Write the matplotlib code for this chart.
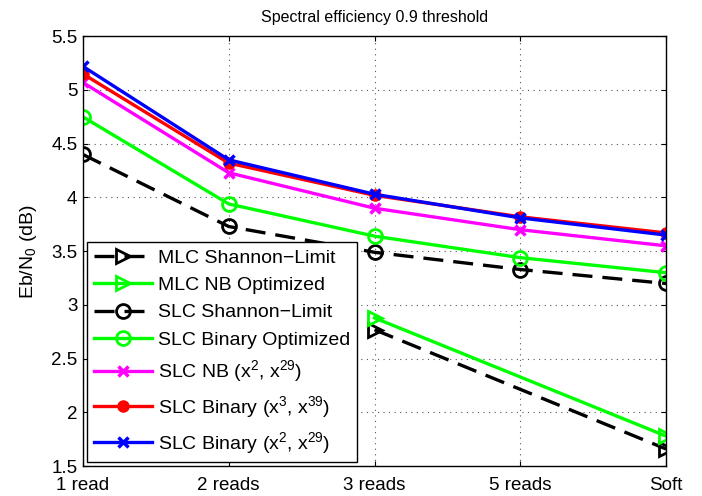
import numpy as np
import matplotlib
matplotlib.use("Agg")
import matplotlib.pyplot as plt

plt.rcParams['font.family'] = ['Liberation Sans', 'DejaVu Sans']
plt.rcParams['mathtext.fontset'] = 'custom'
plt.rcParams['mathtext.rm'] = 'Liberation Sans'
plt.rcParams['mathtext.it'] = 'Liberation Sans'

categories = ["1 read", "2 reads", "3 reads", "5 reads", "Soft"]
nan = np.nan
mlc_shannon = [nan, nan, 2.77, nan, 1.66]
mlc_nb_opt = [nan, nan, 2.88, nan, 1.78]
slc_shannon = [4.40, 3.73, 3.49, 3.33, 3.20]
slc_bin_opt = [4.75, 3.94, 3.64, 3.44, 3.30]
slc_nb = [5.07, 4.23, 3.90, 3.70, 3.55]
slc_bin_x3 = [5.15, 4.32, 4.02, 3.82, 3.67]
slc_bin_x2 = [5.22, 4.35, 4.03, 3.81, 3.65]

x = np.arange(len(categories))

fig = plt.figure(figsize=(7.02, 4.96), dpi=100)
ax = fig.add_axes([0.118, 0.060, 0.831, 0.867])

lw = 2.4
ms = 10

def seg(vals):
    v = np.array(vals, dtype=float)
    m = ~np.isnan(v)
    return x[m], v[m]

xs, ys = seg(mlc_shannon)
ax.plot(xs, ys, color='k', ls='--', dashes=(6, 3), lw=lw, marker='>', ms=ms,
        mfc='none', mew=2, label='MLC Shannon\u2212Limit')
xs, ys = seg(mlc_nb_opt)
ax.plot(xs, ys, color='#00ff00', lw=lw, marker='>', ms=ms,
        mfc='none', mew=2, label='MLC NB Optimized')
ax.plot(x, slc_shannon, color='k', ls='--', dashes=(6, 3), lw=lw, marker='o', ms=ms,
        mfc='none', mew=2, label='SLC Shannon\u2212Limit')
ax.plot(x, slc_bin_opt, color='#00ff00', lw=lw, marker='o', ms=ms,
        mfc='none', mew=2, label='SLC Binary Optimized')
ax.plot(x, slc_nb, color='#ff00ff', lw=lw, marker='x', ms=7,
        mew=2.5, label='SLC NB (x$^{2}$, x$^{29}$)')
ax.plot(x, slc_bin_x3, color='#ff0000', lw=lw, marker='o', ms=8,
        label='SLC Binary (x$^{3}$, x$^{39}$)')
ax.plot(x, slc_bin_x2, color='#0000ff', lw=lw, marker='x', ms=7,
        mew=2.5, label='SLC Binary (x$^{2}$, x$^{29}$)')

ax.set_xlim(0, len(categories) - 1)
ax.set_ylim(1.5, 5.5)
ax.set_xticks(x)
ax.set_xticklabels(categories)
ax.set_yticks(np.arange(1.5, 5.51, 0.5))
ax.set_yticklabels(["1.5", "2", "2.5", "3", "3.5", "4", "4.5", "5", "5.5"])
ax.tick_params(direction='in', labelsize=13.5, top=True, right=True, pad=4)
ax.tick_params(axis='x', pad=8)
ax.grid(True, ls=(0, (1, 4)), color='#555555', lw=0.8)
for s in ax.spines.values():
    s.set_linewidth(1.0)

ax.set_ylabel('Eb/N$_0$ (dB)', fontsize=14, labelpad=9)
ax.set_title('Spectral efficiency 0.9 threshold', fontsize=11.5, pad=10)

leg = ax.legend(loc='lower left', fontsize=14, fancybox=False, framealpha=1,
                edgecolor='k', borderaxespad=0.2, borderpad=0.35,
                handlelength=3.0, handletextpad=0.3, labelspacing=0.5)
leg.get_frame().set_linewidth(1.0)

fig.savefig('out.png', dpi=100)
